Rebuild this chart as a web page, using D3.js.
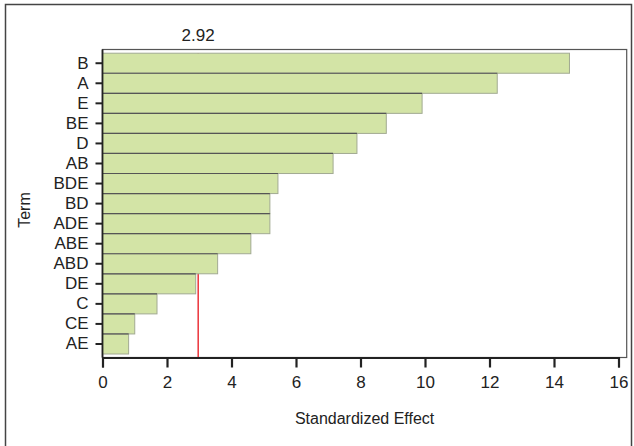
<!DOCTYPE html>
<html><head><meta charset="utf-8">
<script src="https://cdn.jsdelivr.net/npm/d3@7"></script>
<style>body{margin:0;background:#fff}svg{display:block}text{font-family:"Liberation Sans",Arial,sans-serif;fill:#222}</style>
</head><body>
<svg id="c" width="634" height="446"></svg>
<script>
const terms = ["B","A","E","BE","D","AB","BDE","BD","ADE","ABE","ABD","DE","C","CE","AE"];
const effects = [14.48,12.24,9.91,8.80,7.89,7.15,5.44,5.19,5.19,4.60,3.57,2.89,1.69,1.00,0.81];
const xTicks = [0,2,4,6,8,10,12,14,16];
const critical = 2.92;

const svg = d3.select("#c");
const L = 102.5, R = 626.7, T = 49.5, B = 357.5;
const x = d3.scaleLinear().domain([0,16]).range([L, L + 16*32.25]);
const y = d3.scaleBand().domain(terms).range([53.2, 354]).padding(0);

// outer frame
svg.append("rect").attr("x",5.5).attr("y",4.5).attr("width",626).attr("height",445)
  .attr("fill","none").attr("stroke","#444").attr("stroke-width",1.5);

// plot frame (top, right)
svg.append("rect").attr("x",L).attr("y",T).attr("width",R-L).attr("height",B-T)
  .attr("fill","none").attr("stroke","#555").attr("stroke-width",1.2);

// critical line (behind bars)
svg.append("line").attr("x1",x(critical)+1.5).attr("x2",x(critical)+1.5).attr("y1",y(terms[0])).attr("y2",B)
  .attr("stroke","#e8141c").attr("stroke-width",1.3);
svg.append("text").attr("x",x(critical)+1.5).attr("y",41).attr("text-anchor","middle")
  .style("font-size","17px").text(critical.toFixed(2));

// bars
const g = svg.append("g");
g.selectAll("rect").data(terms).join("rect")
  .attr("x",x(0)).attr("y",d=>y(d))
  .attr("width",(d,i)=>x(effects[i])-x(0)).attr("height",y.bandwidth())
  .attr("fill","#d3e4a6").attr("stroke","#a2aa92").attr("stroke-width",1);
g.selectAll("line.top").data(terms.slice(1)).join("line").attr("class","top")
  .attr("x1",x(0)).attr("x2",(d)=>x(effects[terms.indexOf(d)]))
  .attr("y1",d=>y(d)).attr("y2",d=>y(d))
  .attr("stroke","#555").attr("stroke-width",1.2);

// x axis
const xa = svg.append("g").attr("transform",`translate(0,${B})`)
  .call(d3.axisBottom(x).tickValues(xTicks).tickSize(10).tickPadding(8).tickFormat(d3.format("d")));
xa.select(".domain").attr("stroke","#222").attr("stroke-width",1.8);
xa.selectAll(".tick line").attr("stroke","#222").attr("stroke-width",2.2);
xa.selectAll(".tick text").style("font-size","17px").attr("fill","#222")
  .style("font-family","'Liberation Sans',Arial,sans-serif");

// y axis
const ya = svg.append("g").attr("transform",`translate(${L},0)`)
  .call(d3.axisLeft(y).tickSize(7).tickPadding(7));
ya.select(".domain").attr("d",`M0,${T}V${B}`).attr("stroke","#222").attr("stroke-width",1.8);
ya.selectAll(".tick line").attr("stroke","#222").attr("stroke-width",2);
ya.selectAll(".tick text").style("font-size","17px").attr("fill","#222")
  .style("font-family","'Liberation Sans',Arial,sans-serif");

// axis titles
svg.append("text").attr("transform","translate(30,210) rotate(-90)").attr("text-anchor","middle")
  .style("font-size","16px").text("Term");
svg.append("text").attr("x",(L+R)/2).attr("y",424).attr("text-anchor","middle")
  .style("font-size","16px").text("Standardized Effect");
</script>
</body></html>
